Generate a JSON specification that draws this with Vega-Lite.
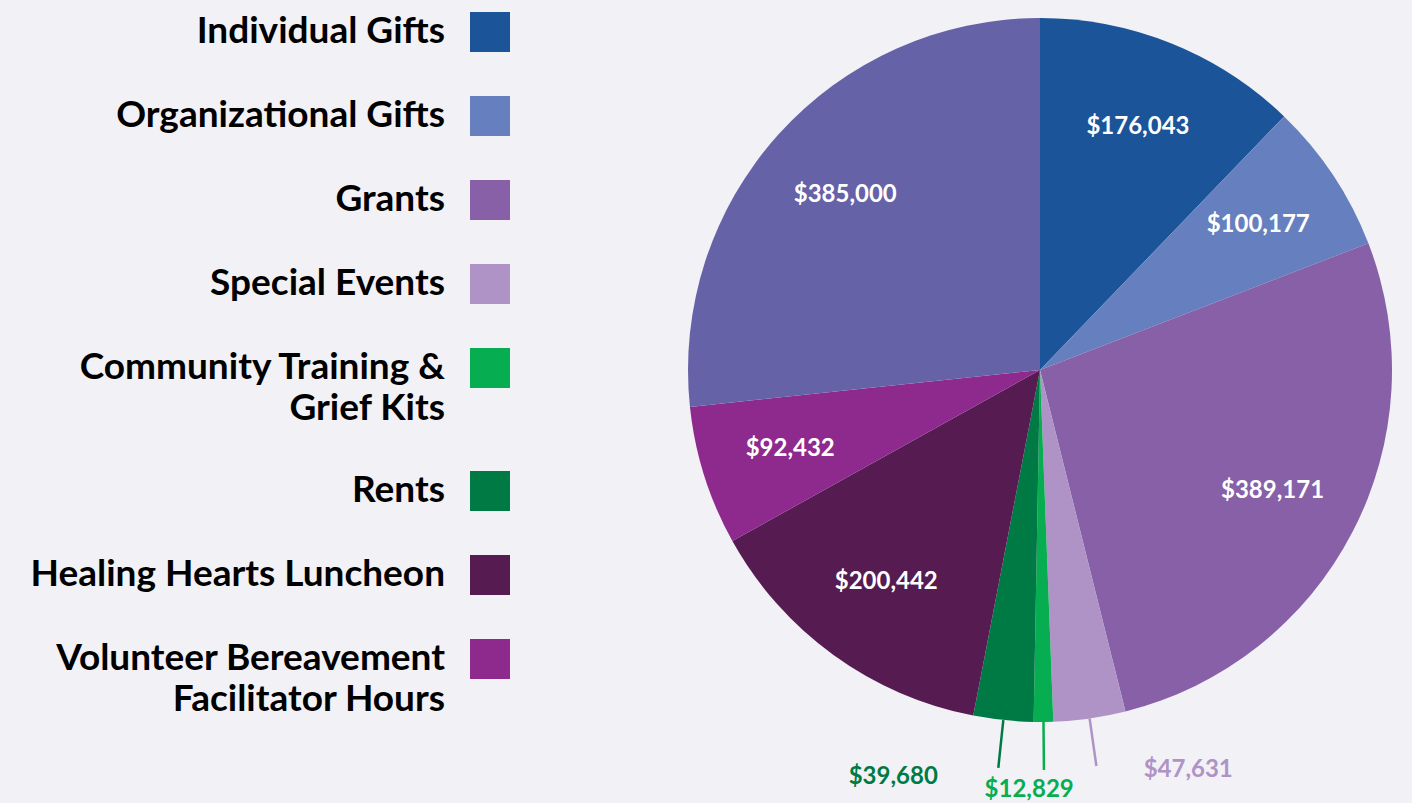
{
  "$schema": "https://vega.github.io/schema/vega-lite/v6.json",
  "autosize": "none",
  "width": 704,
  "height": 740,
  "padding": {"left": 688, "top": 0, "right": 20, "bottom": 63},
  "background": "#f2f1f6",
  "config": {"view": {"stroke": null}},
  "data": {
    "values": [
      {"idx": 1, "name": "Individual Gifts", "amount": 176043},
      {"idx": 2, "name": "Organizational Gifts", "amount": 100177},
      {"idx": 3, "name": "Grants", "amount": 389171},
      {"idx": 4, "name": "Special Events", "amount": 47631},
      {"idx": 5, "name": "Community Training & Grief Kits", "amount": 12829},
      {"idx": 6, "name": "Rents", "amount": 39680},
      {"idx": 7, "name": "Healing Hearts Luncheon", "amount": 200442},
      {"idx": 8, "name": "Volunteer Bereavement Facilitator Hours", "amount": 92432},
      {"idx": 9, "name": "Other", "amount": 385000}
    ]
  },
  "transform": [
    {"stack": "amount", "groupby": [], "sort": [{"field": "idx", "order": "ascending"}], "offset": "normalize", "as": ["t0", "t1"]},
    {"calculate": "(datum.t0 + datum.t1) / 2", "as": "tm"}
  ],
  "layer": [
    {
      "mark": {"type": "arc", "outerRadius": 352},
      "encoding": {
        "theta": {"field": "t0", "type": "quantitative", "scale": {"domain": [0, 1]}},
        "theta2": {"field": "t1"},
        "color": {
          "field": "name",
          "type": "nominal",
          "scale": {
            "domain": ["Individual Gifts", "Organizational Gifts", "Grants", "Special Events", "Community Training & Grief Kits", "Rents", "Healing Hearts Luncheon", "Volunteer Bereavement Facilitator Hours", "Other"],
            "range": ["#1c5499", "#6680bf", "#8760a8", "#b093c6", "#06ad51", "#007a45", "#561c52", "#8e2a8e", "#6662a8"]
          },
          "legend": {
            "orient": "none",
            "direction": "vertical",
            "legendX": -218,
            "legendY": 12,
            "title": null,
            "values": ["Individual Gifts", "Organizational Gifts", "Grants", "Special Events", "Community Training & Grief Kits", "Rents", "Healing Hearts Luncheon", "Volunteer Bereavement Facilitator Hours"],
            "symbolType": "square",
            "symbolSize": 1600,
            "symbolStrokeWidth": 0,
            "symbolOpacity": 1,
            "labelFont": "Lato",
            "labelFontSize": 37,
            "labelFontWeight": "bold",
            "labelColor": "#000000",
            "labelAlign": "right",
            "labelOffset": -65,
            "labelLimit": 800,
            "rowPadding": 44,
            "labelExpr": "datum.label == 'Community Training & Grief Kits' ? ['Community Training &', 'Grief Kits'] : datum.label == 'Volunteer Bereavement Facilitator Hours' ? ['Volunteer Bereavement', 'Facilitator Hours'] : datum.label",
            "encode": {"labels": {"update": {"lineHeight": {"value": 41}}}}
          }
        },
        "order": {"field": "idx"}
      }
    },
    {
      "transform": [{"filter": "datum.amount < 60000"}],
      "mark": {"type": "arc", "outerRadius": 400, "innerRadius": 352, "padAngle": 3, "fillOpacity": 0, "strokeWidth": 2.5},
      "encoding": {
        "theta": {"field": "t0", "type": "quantitative"},
        "theta2": {"field": "t1"},
        "stroke": {
          "field": "name",
          "type": "nominal",
          "scale": {
            "domain": ["Special Events", "Community Training & Grief Kits", "Rents"],
            "range": ["#b093c6", "#06ad51", "#007a45"]
          },
          "legend": null
        }
      }
    },
    {
      "transform": [{"filter": "datum.amount >= 60000"}],
      "mark": {"type": "text", "radius": 262, "font": "Lato", "fontWeight": "bold", "fontSize": 24, "color": "#ffffff"},
      "encoding": {
        "theta": {"field": "tm", "type": "quantitative"},
        "text": {"field": "amount", "type": "quantitative", "format": "$,d"}
      }
    },
    {
      "transform": [{"filter": "datum.name == 'Special Events'"}],
      "mark": {"type": "text", "radius": 420, "dx": 89, "dy": -16, "font": "Lato", "fontWeight": "bold", "fontSize": 24, "color": "#b093c6"},
      "encoding": {
        "theta": {"field": "tm", "type": "quantitative"},
        "text": {"field": "amount", "type": "quantitative", "format": "$,d"}
      }
    },
    {
      "transform": [{"filter": "datum.name == 'Community Training & Grief Kits'"}],
      "mark": {"type": "text", "radius": 420, "dx": -15, "dy": 0, "font": "Lato", "fontWeight": "bold", "fontSize": 24, "color": "#06ad51"},
      "encoding": {
        "theta": {"field": "tm", "type": "quantitative"},
        "text": {"field": "amount", "type": "quantitative", "format": "$,d"}
      }
    },
    {
      "transform": [{"filter": "datum.name == 'Rents'"}],
      "mark": {"type": "text", "radius": 420, "dx": -103, "dy": -11, "font": "Lato", "fontWeight": "bold", "fontSize": 24, "color": "#007a45"},
      "encoding": {
        "theta": {"field": "tm", "type": "quantitative"},
        "text": {"field": "amount", "type": "quantitative", "format": "$,d"}
      }
    }
  ]
}
